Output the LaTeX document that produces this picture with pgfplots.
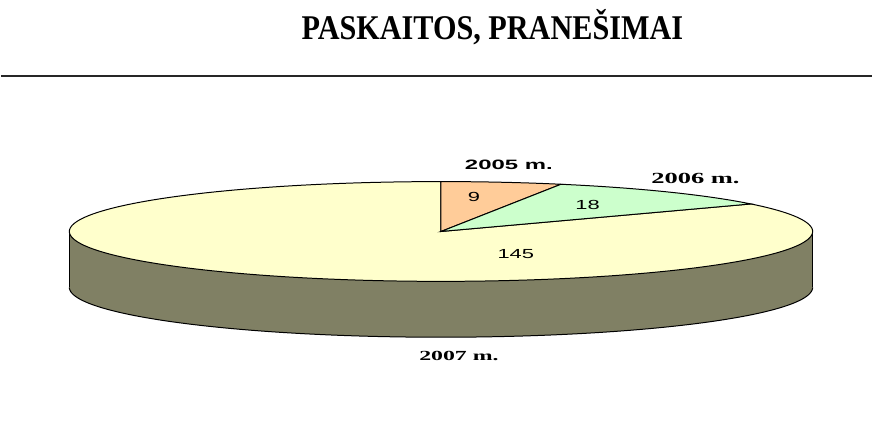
\documentclass[border=0pt]{standalone}
\usepackage{pgfplots}
\usepackage{pgfplotstable}
\pgfplotsset{compat=1.18}
\usepackage{fontspec}
\setmainfont{Liberation Serif}
\newfontfamily\arial{Liberation Sans}
\definecolor{peach}{RGB}{255,204,153}
\definecolor{mint}{RGB}{204,255,204}
\definecolor{cream}{RGB}{255,255,204}
\definecolor{olivewall}{RGB}{128,128,100}
\pgfplotstableread{
label value
2005 9
2006 18
2007 145
}\piedata
\pgfplotstablegetelem{0}{value}\of\piedata\pgfmathsetmacro{\va}{\pgfplotsretval}
\pgfplotstablegetelem{1}{value}\of\piedata\pgfmathsetmacro{\vb}{\pgfplotsretval}
\pgfplotstablegetelem{2}{value}\of\piedata\pgfmathsetmacro{\vc}{\pgfplotsretval}
\pgfmathsetmacro{\tot}{\va+\vb+\vc}
\pgfmathsetmacro{\aA}{90}
\pgfmathsetmacro{\aB}{90-360*\va/\tot}
\pgfmathsetmacro{\aC}{\aB-360*\vb/\tot}
\pgfmathsetmacro{\aD}{90-360}
\def\cx{441}\def\cy{232}\def\rx{372.5}\def\ry{50}\def\dep{56}
\begin{document}
\begin{tikzpicture}
\begin{axis}[
  scale only axis, width=873bp, height=437bp,
  xmin=0, xmax=873, ymin=0, ymax=437, y dir=reverse,
  hide axis, clip=false]
\path (rel axis cs:0,0) rectangle (rel axis cs:1,1);
% title and rule
\node[anchor=base] at (axis cs:492.5,40) {\scalebox{1.02}[1.17]{\fontsize{29.8}{30}\selectfont\bfseries PASKAITOS, PRANEŠIMAI}};
\addplot[black!85, line width=2bp] coordinates {(0,76.5) (873,76.5)};
% side wall
\addplot[fill=olivewall, draw=none, domain=180:360, samples=120, variable=\t]
  ({\cx+\rx*cos(\t)}, {\cy+\dep-\ry*sin(\t)}) -- (axis cs:\cx+\rx,\cy) -- (axis cs:\cx-\rx,\cy) -- cycle;
\addplot[black, line width=1bp, domain=180:360, samples=120, variable=\t]
  ({\cx+\rx*cos(\t)}, {\cy+\dep-\ry*sin(\t)});
\addplot[black, line width=1bp] coordinates {(\cx-\rx,\cy) (\cx-\rx,\cy+\dep)};
\addplot[black, line width=1bp] coordinates {(\cx+\rx,\cy) (\cx+\rx,\cy+\dep)};
% top sectors
\addplot[fill=cream, draw=black, line width=1bp, domain=\aD:\aC, samples=180, variable=\t]
  ({\cx+\rx*cos(\t)}, {\cy-\ry*sin(\t)}) -- (axis cs:\cx,\cy) -- cycle;
\addplot[fill=peach, draw=black, line width=1bp, domain=\aB:\aA, samples=20, variable=\t]
  ({\cx+\rx*cos(\t)}, {\cy-\ry*sin(\t)}) -- (axis cs:\cx,\cy) -- cycle;
\addplot[fill=mint, draw=black, line width=1bp, domain=\aC:\aB, samples=30, variable=\t]
  ({\cx+\rx*cos(\t)}, {\cy-\ry*sin(\t)}) -- (axis cs:\cx,\cy) -- cycle;
% value labels
\node at (axis cs:474,197.5) {\scalebox{1.75}[1.05]{\arial\fontsize{12.6}{13}\selectfont 9}};
\node at (axis cs:588,205.5) {\scalebox{1.75}[1.05]{\arial\fontsize{12.6}{13}\selectfont 18}};
\node at (axis cs:516,254.5) {\scalebox{1.75}[1.05]{\arial\fontsize{12.6}{13}\selectfont 145}};
% category labels
\node at (axis cs:509,165) {\scalebox{1.85}[1.05]{\arial\bfseries\fontsize{13}{13}\selectfont 2005 m.}};
\node at (axis cs:696,178.5) {\scalebox{1.8}[1.05]{\bfseries\fontsize{14.8}{15}\selectfont 2006 m.}};
\node at (axis cs:459,357) {\scalebox{1.8}[1.05]{\bfseries\fontsize{13.3}{14}\selectfont 2007 m.}};
\end{axis}
\end{tikzpicture}
\end{document}
